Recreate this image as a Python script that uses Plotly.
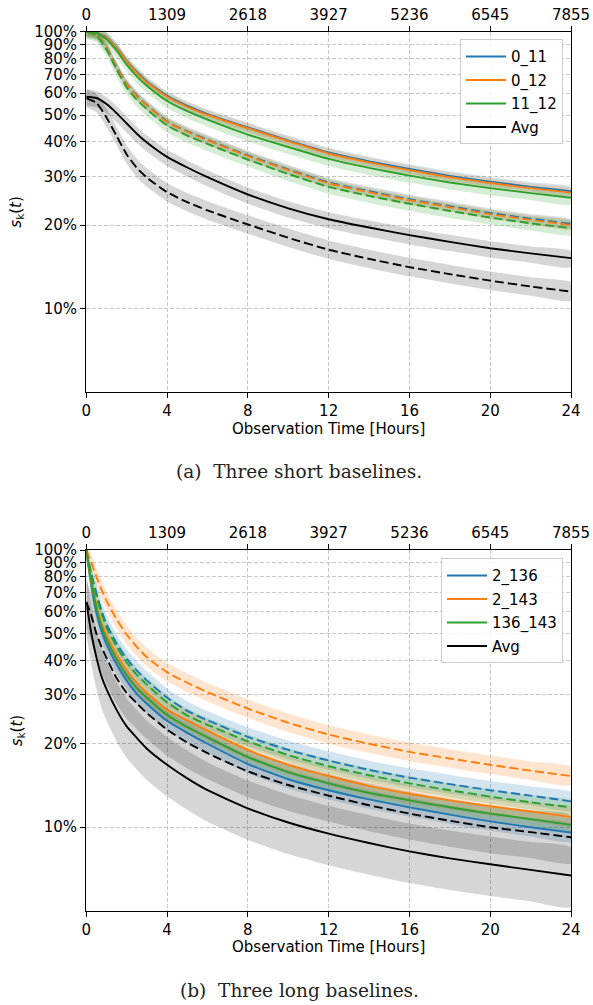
import math
import plotly.graph_objects as go

# ---------------- data ----------------
HOURS_A = [0, 0.5, 1, 1.5, 2, 2.5, 3, 4, 5, 6, 8, 10, 12, 14, 16, 18, 20, 22, 24]
A_0_11 = [1.0, 0.992, 0.955, 0.876, 0.785, 0.715, 0.66, 0.586, 0.539, 0.504, 0.451, 0.405, 0.366, 0.34, 0.319, 0.301, 0.287, 0.275, 0.265]
A_0_12 = [1.0, 0.99, 0.95, 0.87, 0.78, 0.71, 0.655, 0.582, 0.535, 0.5, 0.448, 0.402, 0.363, 0.337, 0.316, 0.298, 0.284, 0.272, 0.262]
A_11_12 = [1.0, 0.99, 0.94, 0.855, 0.76, 0.69, 0.638, 0.562, 0.516, 0.481, 0.425, 0.383, 0.347, 0.322, 0.302, 0.285, 0.272, 0.261, 0.251]
A_AVG = [0.582, 0.576, 0.548, 0.508, 0.466, 0.428, 0.398, 0.353, 0.323, 0.298, 0.258, 0.23, 0.21, 0.196, 0.184, 0.174, 0.165, 0.158, 0.152]
A_0_11_D = [1.0, 0.976, 0.877, 0.748, 0.648, 0.588, 0.543, 0.474, 0.436, 0.407, 0.357, 0.318, 0.285, 0.265, 0.248, 0.234, 0.221, 0.211, 0.202]
A_0_12_D = [1.0, 0.975, 0.875, 0.745, 0.645, 0.585, 0.54, 0.472, 0.434, 0.405, 0.355, 0.316, 0.283, 0.263, 0.246, 0.232, 0.219, 0.209, 0.2]
A_11_12_D = [1.0, 0.97, 0.862, 0.73, 0.628, 0.568, 0.524, 0.458, 0.421, 0.393, 0.345, 0.306, 0.275, 0.255, 0.239, 0.225, 0.213, 0.203, 0.195]
A_AVG_D = [0.575, 0.553, 0.49, 0.42, 0.36, 0.322, 0.297, 0.263, 0.242, 0.226, 0.201, 0.18, 0.163, 0.151, 0.141, 0.133, 0.126, 0.12, 0.115]

HOURS_B = [0, 0.25, 0.5, 0.75, 1, 1.5, 2, 2.5, 3, 4, 5, 6, 8, 10, 12, 14, 16, 18, 20, 22, 24]
B_2_136 = [1.0, 0.74, 0.595, 0.51, 0.458, 0.387, 0.338, 0.303, 0.279, 0.242, 0.219, 0.2, 0.169, 0.149, 0.136, 0.126, 0.118, 0.111, 0.105, 0.1, 0.0957]
B_2_143 = [1.0, 0.76, 0.63, 0.545, 0.494, 0.42, 0.369, 0.332, 0.305, 0.265, 0.243, 0.223, 0.19, 0.168, 0.153, 0.141, 0.132, 0.125, 0.119, 0.114, 0.109]
B_136_143 = [1.0, 0.77, 0.62, 0.53, 0.477, 0.404, 0.353, 0.318, 0.293, 0.254, 0.23, 0.211, 0.179, 0.158, 0.144, 0.133, 0.125, 0.118, 0.112, 0.107, 0.102]
B_AVG = [0.65, 0.50, 0.41, 0.35, 0.315, 0.265, 0.231, 0.21, 0.192, 0.168, 0.15, 0.136, 0.117, 0.104, 0.0948, 0.0877, 0.0818, 0.0772, 0.0735, 0.0702, 0.067]
B_2_136_D = [1.0, 0.82, 0.70, 0.605, 0.54, 0.46, 0.405, 0.367, 0.338, 0.293, 0.263, 0.243, 0.212, 0.19, 0.174, 0.161, 0.151, 0.143, 0.136, 0.13, 0.124]
B_2_143_D = [1.0, 0.90, 0.80, 0.72, 0.655, 0.562, 0.495, 0.447, 0.41, 0.362, 0.332, 0.307, 0.268, 0.238, 0.216, 0.2, 0.187, 0.177, 0.168, 0.16, 0.153]
B_136_143_D = [1.0, 0.80, 0.68, 0.59, 0.525, 0.448, 0.393, 0.355, 0.327, 0.282, 0.253, 0.234, 0.204, 0.182, 0.166, 0.154, 0.144, 0.136, 0.129, 0.123, 0.118]
B_AVG_D = [0.65, 0.58, 0.50, 0.448, 0.408, 0.345, 0.305, 0.28, 0.258, 0.225, 0.202, 0.185, 0.159, 0.142, 0.13, 0.12, 0.112, 0.1055, 0.1, 0.096, 0.092]

# shaded band extent: (factor below, factor above) each line
SPREAD_A = {"0_11": (1.04, 1.04), "0_12": (1.04, 1.04), "11_12": (1.06, 1.06),
            "Avg": (1.08, 1.06), "Avg_D": (1.08, 1.08)}
SPREAD_B = {"2_136": (1.08, 1.08), "2_143": (1.08, 1.08), "136_143": (1.06, 1.06),
            "Avg": (1.3, 1.26), "Avg_D": (1.24, 1.2)}

X_TICKS = [0, 4, 8, 12, 16, 20, 24]
TOP_TICK_LABELS = ["0", "1309", "2618", "3927", "5236", "6545", "7855"]
Y_TICKS = [0.1, 0.2, 0.3, 0.4, 0.5, 0.6, 0.7, 0.8, 0.9, 1.0]
Y_TICK_LABELS = ["10%", "20%", "30%", "40%", "50%", "60%", "70%", "80%", "90%", "100%"]

LABELS_A = ["0_11", "0_12", "11_12", "Avg"]
LABELS_B = ["2_136", "2_143", "136_143", "Avg"]
CAPTION_A = "(a)  Three short baselines."
CAPTION_B = "(b)  Three long baselines."

# ---------------- style ----------------
W, H = 593, 1005
BLUE, ORANGE, GREEN, BLACK = "#1f77b4", "#ff7f0e", "#2ca02c", "#000000"
FILLS = {BLUE: "rgba(31,119,180,0.2)", ORANGE: "rgba(255,127,14,0.2)",
         GREEN: "rgba(44,160,44,0.2)", BLACK: "rgba(0,0,0,0.16)"}
FONT = "DejaVu Sans"
LW = 1.9
DASH = "9px,4px"

fig = go.Figure()


def band(x, y, spread, color, xa, ya):
    lo_f, hi_f = spread
    up = [v * hi_f for v in y]
    lo = [v / lo_f for v in y]
    fig.add_trace(go.Scatter(x=list(x) + list(x)[::-1], y=up + lo[::-1], fill="toself",
                             fillcolor=FILLS[color], line=dict(width=0, shape="spline", smoothing=0.5),
                             mode="lines", showlegend=False, hoverinfo="skip", xaxis=xa, yaxis=ya))


def line(x, y, color, dashed, xa, ya, name=None, legend=None):
    fig.add_trace(go.Scatter(x=x, y=y, mode="lines", line=dict(color=color, width=LW,
                             dash=DASH if dashed else "solid", shape="spline", smoothing=0.5),
                             name=name, showlegend=name is not None, legend=legend,
                             legendgroup=name, xaxis=xa, yaxis=ya))


# panel a
series_a = [(A_0_11, A_0_11_D, BLUE, "0_11", "0_11"), (A_0_12, A_0_12_D, ORANGE, "0_12", "0_12"),
            (A_11_12, A_11_12_D, GREEN, "11_12", "11_12"), (A_AVG, A_AVG_D, BLACK, "Avg", "Avg_D")]
for s, d, c, k, kd in series_a:
    band(HOURS_A, s, SPREAD_A[k], c, "x", "y")
    band(HOURS_A, d, SPREAD_A[kd], c, "x", "y")
for s, d, c, k, kd in series_a:
    line(HOURS_A, d, c, True, "x", "y")
for (s, d, c, k, kd), lab in zip(series_a, LABELS_A):
    line(HOURS_A, s, c, False, "x", "y", name=lab, legend="legend")

# panel b
series_b = [(B_2_136, B_2_136_D, BLUE, "2_136", "2_136"), (B_2_143, B_2_143_D, ORANGE, "2_143", "2_143"),
            (B_136_143, B_136_143_D, GREEN, "136_143", "136_143"), (B_AVG, B_AVG_D, BLACK, "Avg", "Avg_D")]
for s, d, c, k, kd in series_b:
    band(HOURS_B, s, SPREAD_B[k], c, "x2", "y2")
    band(HOURS_B, d, SPREAD_B[kd], c, "x2", "y2")
for s, d, c, k, kd in series_b:
    line(HOURS_B, d, c, True, "x2", "y2")
for (s, d, c, k, kd), lab in zip(series_b, LABELS_B):
    line(HOURS_B, s, c, False, "x2", "y2", name=lab, legend="legend2")

# invisible traces so the top (sample-index) axes render
fig.add_trace(go.Scatter(x=[0, 24], y=[0.5, 0.5], xaxis="x3", yaxis="y", mode="lines",
                         line=dict(width=0), showlegend=False, hoverinfo="skip", opacity=0))
fig.add_trace(go.Scatter(x=[0, 24], y=[0.5, 0.5], xaxis="x4", yaxis="y2", mode="lines",
                         line=dict(width=0), showlegend=False, hoverinfo="skip", opacity=0))

# ---------------- layout ----------------
XD = [86.3 / W, 571.0 / W]
YD_A = [1 - 391.7 / H, 1 - 31.7 / H]
YD_B = [1 - 910.7 / H, 1 - 550.0 / H]
tickfont = dict(family=FONT, size=15, color="black")

common_x = dict(domain=XD, range=[0, 24], tickvals=X_TICKS, ticktext=[str(v) for v in X_TICKS],
                showline=True, linecolor="black", linewidth=1.4, mirror=True,
                ticks="outside", ticklen=5, tickwidth=1.2, tickcolor="black",
                showgrid=True, gridcolor="#c8c8c8", gridwidth=0.9, griddash="4px,2px",
                zeroline=False, tickfont=tickfont, automargin=False)
common_y = dict(type="log", range=[math.log10(0.05), 0], tickvals=Y_TICKS, ticktext=Y_TICK_LABELS,
                showline=True, linecolor="black", linewidth=1.4, mirror=True,
                ticks="outside", ticklen=5, tickwidth=1.2, tickcolor="black",
                showgrid=True, gridcolor="#c8c8c8", gridwidth=0.9, griddash="4px,2px",
                zeroline=False, tickfont=tickfont, automargin=False)
top_x = dict(range=[0, 24], tickvals=X_TICKS, ticktext=TOP_TICK_LABELS, side="top",
             ticks="outside", ticklen=5, tickwidth=1.2, tickcolor="black", showgrid=False,
             showline=False, zeroline=False, tickfont=tickfont, automargin=False)

legend_common = dict(xanchor="right", yanchor="top", bgcolor="rgba(255,255,255,0.85)",
                     bordercolor="#cccccc", borderwidth=1, font=dict(family=FONT, size=15, color="black"),
                     tracegroupgap=1, traceorder="grouped", itemwidth=40)

fig.update_layout(
    width=W, height=H, margin=dict(l=0, r=0, t=0, b=0, autoexpand=False),
    paper_bgcolor="white", plot_bgcolor="white",
    font=dict(family=FONT, size=15, color="black"),
    xaxis=dict(common_x, anchor="y"),
    yaxis=dict(common_y, domain=YD_A, anchor="x"),
    xaxis2=dict(common_x, anchor="y2"),
    yaxis2=dict(common_y, domain=YD_B, anchor="x2"),
    xaxis3=dict(top_x, overlaying="x", anchor="y"),
    xaxis4=dict(top_x, overlaying="x2", anchor="y2"),
    legend=dict(legend_common, x=563 / W, y=1 - 39.3 / H),
    legend2=dict(legend_common, x=563 / W, y=1 - 558.3 / H),
    showlegend=True,
)

ann = []
for yc in [(31.7 + 391.7) / 2, (550 + 910.7) / 2]:
    ann.append(dict(text="<i>s</i><sub>k</sub>(<i>t</i>)", x=17 / W, y=1 - yc / H, xref="paper", yref="paper",
                    xanchor="center", yanchor="middle", textangle=-90, showarrow=False,
                    font=dict(family=FONT, size=15, color="black")))
for yc in [428.5, 947.0]:
    ann.append(dict(text="Observation Time [Hours]", x=(86.3 + 571) / 2 / W, y=1 - yc / H,
                    xref="paper", yref="paper", xanchor="center", yanchor="middle", showarrow=False,
                    font=dict(family=FONT, size=15, color="black")))
for txt, yc in [(CAPTION_A, 471.5), (CAPTION_B, 990)]:
    ann.append(dict(text=txt, x=299 / W, y=1 - yc / H, xref="paper", yref="paper", showarrow=False,
                    xanchor="center", yanchor="middle",
                    font=dict(family="DejaVu Serif", size=18.5, color="#222222")))
fig.update_layout(annotations=ann)

fig.write_html("out.html")
